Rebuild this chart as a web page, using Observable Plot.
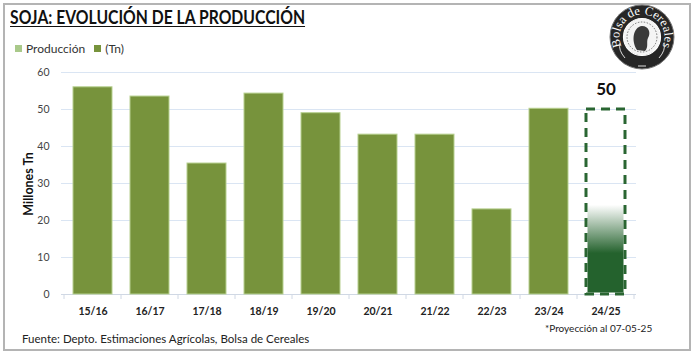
<!DOCTYPE html>
<html>
<head>
<meta charset="utf-8">
<script src="https://cdn.jsdelivr.net/npm/d3@7"></script>
<script src="https://cdn.jsdelivr.net/npm/@observablehq/plot@0.6"></script>
<style>
  html, body { margin: 0; padding: 0; background: #fff; }
  #chart { position: relative; width: 694px; height: 353px; font-family: Lato, "Open Sans", sans-serif; overflow: hidden; }
  #frame { position: absolute; left: 3px; top: 3px; width: 684px; height: 344px; border: 2px solid #b4b4b4; box-sizing: content-box; }
  #title { position: absolute; left: 10px; top: 6px; font-size: 18.5px; font-weight: 700; text-decoration: underline; text-underline-offset: 2px; color: #111; white-space: nowrap; transform: scaleX(0.85); transform-origin: 0 0; }
  #legend { position: absolute; left: 15px; top: 41px; font-size: 12px; color: #333; display: flex; align-items: center; white-space: nowrap; }
  #legend .sw { display: inline-block; width: 7px; height: 7px; margin-right: 4px; }
  #plot { position: absolute; left: 0; top: 0; }
  #ylabel { position: absolute; left: 28px; top: 184px; transform: translate(-50%, -50%) rotate(-90deg); font-size: 12.5px; font-weight: 700; color: #111; white-space: nowrap; }
  #source { position: absolute; left: 22px; top: 332px; font-size: 11.5px; color: #222; white-space: nowrap; }
  #note { position: absolute; left: 545px; top: 322px; font-size: 10px; color: #222; white-space: nowrap; }
  #logo { position: absolute; left: 608px; top: 3px; overflow: visible; }
</style>
</head>
<body>
<div id="chart">
  <div id="frame"></div>
  <div id="plot"></div>
  <div id="title">SOJA: EVOLUCIÓN DE LA PRODUCCIÓN</div>
  <div id="legend"></div>
  <div id="ylabel">Millones Tn</div>
  <div id="source">Fuente: Depto. Estimaciones Agrícolas, Bolsa de Cereales</div>
  <div id="note">*Proyección al 07-05-25</div>
  <svg id="logo" width="68" height="68" viewBox="0 0 68 68"></svg>
</div>
<script>
// Campaigns and soybean production (millions of tonnes)
const campaigns = ["15/16", "16/17", "17/18", "18/19", "19/20", "20/21", "21/22", "22/23", "23/24", "24/25"];
const production = [56.0, 53.5, 35.4, 54.3, 49.0, 43.2, 43.2, 23.0, 50.2, null];
// 24/25 projection and the extent of its shaded fill
const projectionCampaign = "24/25";
const projectionValue = 50;
const projectionFillTop = 24.5;
const projectionSolidTop = 11;
const yTicks = [0, 10, 20, 30, 40, 50, 60];
const legendItems = [
  {label: "Producción", color: "#a9c98a"},
  {label: "(Tn)", color: "#77933c"}
];

const history = campaigns
  .map((c, i) => ({campaign: c, value: production[i]}))
  .filter(d => d.value != null);
const projection = [{campaign: projectionCampaign, value: projectionValue, fillTop: projectionFillTop}];

const legend = document.getElementById("legend");
legendItems.forEach((d, i) => {
  const item = document.createElement("span");
  item.style.display = "inline-flex";
  item.style.alignItems = "center";
  item.style.marginRight = i === 0 ? "9px" : "0";
  item.innerHTML = `<span class="sw" style="background:${d.color}"></span>${d.label}`;
  legend.appendChild(item);
});

const plot = Plot.plot({
  width: 694,
  height: 353,
  marginLeft: 61,
  marginRight: 58,
  marginTop: 72,
  marginBottom: 59,
  style: {fontFamily: "Lato, 'Open Sans', sans-serif", background: "transparent"},
  x: {domain: campaigns, paddingInner: 0.32, paddingOuter: 0.16, label: null, tickSize: 0, tickPadding: 13},
  y: {domain: [0, 60], ticks: yTicks, label: null, tickSize: 0, tickPadding: 12},
  marks: [
    Plot.gridY(yTicks.slice(1), {stroke: "#dae5f3", strokeOpacity: 1, strokeWidth: 1}),
    Plot.ruleY([0], {stroke: "#d0d8e4", strokeWidth: 1}),
    Plot.barY(history, {x: "campaign", y: "value", fill: "#77933c", stroke: "#b7d08f", strokeWidth: 1}),
    Plot.barY(projection, {x: "campaign", y: "fillTop", fill: "url(#projFill)", inset: 1.5}),
    Plot.barY(projection, {x: "campaign", y: "value", fill: "none", stroke: "#2a6632", strokeWidth: 3, strokeDasharray: "9,6"}),
    Plot.text(projection, {x: "campaign", y: "value", text: d => String(d.value), dy: -20, fontSize: 17, fontWeight: "bold", fill: "#111"})
  ]
});

// Gradient used by the projected bar: solid at the base, fading upward to white
const svg = d3.select(plot);
const grad = svg.insert("defs", ":first-child").append("linearGradient")
  .attr("id", "projFill").attr("x1", 0).attr("y1", 1).attr("x2", 0).attr("y2", 0);
grad.append("stop").attr("offset", 0).attr("stop-color", "#24622d");
grad.append("stop").attr("offset", projectionSolidTop / projectionFillTop).attr("stop-color", "#24622d");
grad.append("stop").attr("offset", 1).attr("stop-color", "#ffffff");

svg.selectAll("[aria-label='x-axis tick label'] text")
  .attr("font-weight", "bold").attr("font-size", 10.5).attr("fill", "#222");
svg.selectAll("[aria-label='y-axis tick label'] text")
  .attr("font-size", 10.5).attr("fill", "#444");

// Small ticks between categories along the baseline
const xs = plot.scale("x");
const y0 = plot.scale("y").apply(0);
const step = xs.step;
const gap = step - xs.bandwidth;
const edges = campaigns.map(c => xs.apply(c) - gap / 2);
edges.push(xs.apply(campaigns[campaigns.length - 1]) + xs.bandwidth + gap / 2);
const tg = svg.append("g").attr("stroke", "#d0d8e4");
edges.forEach(x => tg.append("line").attr("x1", x).attr("x2", x).attr("y1", y0).attr("y2", y0 + 5));

document.getElementById("plot").appendChild(plot);

// Bolsa de Cereales seal
const logo = d3.select("#logo");
const cx = 34, cy = 34, R = 32;
logo.append("circle").attr("cx", cx).attr("cy", cy).attr("r", R).attr("fill", "#262626").attr("stroke", "#777").attr("stroke-width", 1);
logo.append("circle").attr("cx", cx).attr("cy", cy).attr("r", 18.5).attr("fill", "#f4f4f4").attr("stroke", "#fff").attr("stroke-width", 1.2);
logo.append("circle").attr("cx", cx).attr("cy", cy).attr("r", 15).attr("fill", "none").attr("stroke", "#444").attr("stroke-width", 0.7).attr("stroke-dasharray", "1.5,1.5");
const a = 40 * Math.PI / 180, rt = 22.5;
logo.append("defs").append("path").attr("id", "sealArc")
  .attr("d", `M ${cx - rt * Math.cos(a)} ${cy + rt * Math.sin(a)} A ${rt} ${rt} 0 1 1 ${cx + rt * Math.cos(a)} ${cy + rt * Math.sin(a)}`);
logo.append("text").attr("fill", "#fff").attr("font-family", "'Liberation Serif', serif").attr("font-size", 12.5)
  .append("textPath").attr("href", "#sealArc").attr("startOffset", "50%").attr("text-anchor", "middle")
  .text("Bolsa de Cereales");
// Profile in the centre of the seal
logo.append("path").attr("fill", "#3a3a3a")
  .attr("d", `M ${cx - 5} ${cy + 13} C ${cx - 11} ${cy + 4} ${cx - 9} ${cy - 10} ${cx} ${cy - 11} C ${cx + 7} ${cy - 11} ${cx + 9} ${cy - 4} ${cx + 6} ${cy + 1} C ${cx + 4} ${cy + 5} ${cx + 7} ${cy + 10} ${cx + 3} ${cy + 14} Z`);
logo.append("path").attr("fill", "none").attr("stroke", "#ddd").attr("stroke-width", 1)
  .attr("d", `M ${cx - 17} ${cy + 21} Q ${cx - 24} ${cy + 13} ${cx - 22} ${cy + 6} M ${cx + 17} ${cy + 21} Q ${cx + 24} ${cy + 13} ${cx + 22} ${cy + 6} M ${cx - 4} ${cy + 29} L ${cx + 4} ${cy + 29}`);
</script>
</body>
</html>
